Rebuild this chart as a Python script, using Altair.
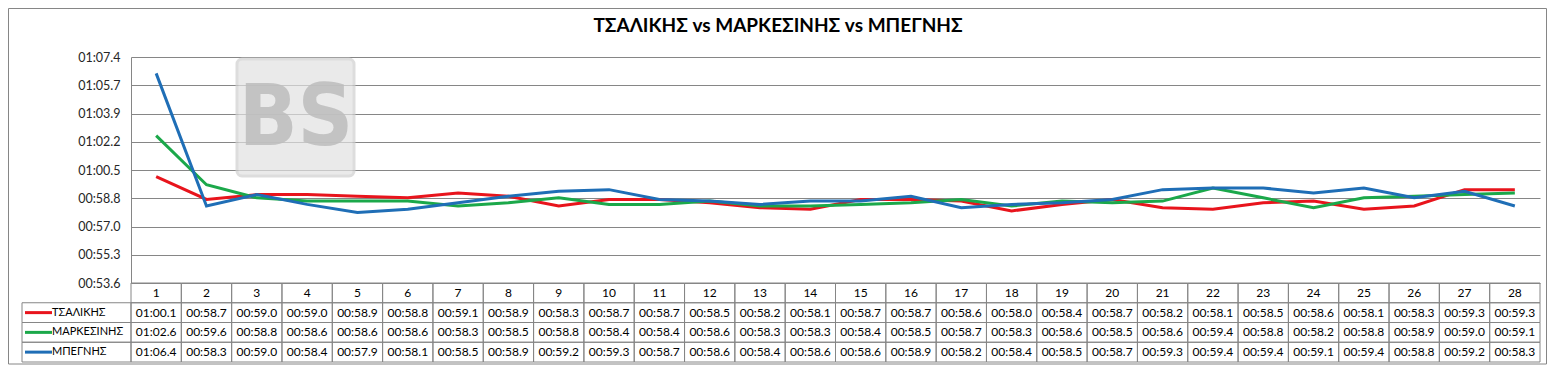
import altair as alt
import pandas as pd

laps = list(range(1, 29))
series_names = ["ΤΣΑΛΙΚΗΣ", "ΜΑΡΚΕΣΙΝΗΣ", "ΜΠΕΓΝΗΣ"]
series_colors = ["#E8141C", "#1BA84A", "#1F6EB6"]

tsalikis = ["01:00.1", "00:58.7", "00:59.0", "00:59.0", "00:58.9", "00:58.8", "00:59.1",
            "00:58.9", "00:58.3", "00:58.7", "00:58.7", "00:58.5", "00:58.2", "00:58.1",
            "00:58.7", "00:58.7", "00:58.6", "00:58.0", "00:58.4", "00:58.7", "00:58.2",
            "00:58.1", "00:58.5", "00:58.6", "00:58.1", "00:58.3", "00:59.3", "00:59.3"]
markesinis = ["01:02.6", "00:59.6", "00:58.8", "00:58.6", "00:58.6", "00:58.6", "00:58.3",
              "00:58.5", "00:58.8", "00:58.4", "00:58.4", "00:58.6", "00:58.3", "00:58.3",
              "00:58.4", "00:58.5", "00:58.7", "00:58.3", "00:58.6", "00:58.5", "00:58.6",
              "00:59.4", "00:58.8", "00:58.2", "00:58.8", "00:58.9", "00:59.0", "00:59.1"]
mpegnis = ["01:06.4", "00:58.3", "00:59.0", "00:58.4", "00:57.9", "00:58.1", "00:58.5",
           "00:58.9", "00:59.2", "00:59.3", "00:58.7", "00:58.6", "00:58.4", "00:58.6",
           "00:58.6", "00:58.9", "00:58.2", "00:58.4", "00:58.5", "00:58.7", "00:59.3",
           "00:59.4", "00:59.4", "00:59.1", "00:59.4", "00:58.8", "00:59.2", "00:58.3"]

y_min, y_max, y_step = 53.6, 67.4, 1.725
y_tick_labels = ["00:53.6", "00:55.3", "00:57.0", "00:58.8", "01:00.5",
                 "01:02.2", "01:03.9", "01:05.7", "01:07.4"]
title_text = "ΤΣΑΛΙΚΗΣ vs ΜΑΡΚΕΣΙΝΗΣ vs ΜΠΕΓΝΗΣ"
watermark_text = "BS"

FONT = "Lato"
GRID = "#868686"


def to_sec(s):
    m, rest = s.split(":")
    return int(m) * 60 + float(rest)


rows = []
for name, vals in zip(series_names, [tsalikis, markesinis, mpegnis]):
    for lap, v in zip(laps, vals):
        rows.append(dict(series=name, row=name, lap=lap, time=v, sec=to_sec(v)))
df = pd.DataFrame(rows)

header_df = pd.DataFrame({"lap": laps, "row": ["hdr"] * len(laps), "time": [str(l) for l in laps]})
cells_df = pd.concat([header_df, df[["lap", "row", "time"]]], ignore_index=True)
legend_df = pd.DataFrame({"row": series_names, "series": series_names})

tick_vals = [round(y_min + i * y_step, 4) for i in range(len(y_tick_labels))]
label_expr = "[" + ",".join("'%s'" % t for t in y_tick_labels) + "][round((datum.value-%s)/%s)]" % (y_min, y_step)

W, H, TH = 1409, 226, 79

color = alt.Color("series:N", scale=alt.Scale(domain=series_names, range=series_colors), legend=None)

# ---- top: line chart ----
x_top = alt.X("lap:O", scale=alt.Scale(type="point", domain=laps, padding=0.5), axis=None)
y_top = alt.Y("sec:Q",
              scale=alt.Scale(domain=[y_min, y_max], zero=False, nice=False),
              axis=alt.Axis(values=tick_vals, labelExpr=label_expr, title=None, grid=True,
                            gridColor=GRID, gridWidth=1, domainColor=GRID, ticks=False,
                            labelPadding=11, labelFontSize=12.5, labelFont=FONT,
                            labelColor="#262626"))

wm_df = pd.DataFrame({"t": [watermark_text]})
wm_rect = alt.Chart(wm_df).mark_rect(cornerRadius=5, fill="#e2e2e2", stroke="#cfcfcf",
                                     strokeWidth=3, opacity=0.7).encode(
    x=alt.value(106), x2=alt.value(223), y=alt.value(2), y2=alt.value(119))
wm_txt = alt.Chart(wm_df).mark_text(fontSize=86, fontWeight="bold",
                                    font="Liberation Sans Narrow, DejaVu Sans Condensed, Liberation Sans",
                                    color="#bdbdbd", opacity=0.85, baseline="middle").encode(
    x=alt.value(165), y=alt.value(62), text="t:N")

lines = alt.Chart(df).mark_line(strokeWidth=3).encode(x=x_top, y=y_top, color=color)

ttl = alt.Chart(pd.DataFrame({"t": [title_text]})).mark_text(
    fontSize=19, fontWeight="bold", font=FONT, color="#000000", baseline="middle").encode(
    x=alt.value(647), y=alt.value(-31), text="t:N")

border = alt.Chart(pd.DataFrame({"a": [0]})).mark_rect(
    fillOpacity=0, stroke=GRID, strokeWidth=1).encode(
    x=alt.value(-122.5), x2=alt.value(1415.5), y=alt.value(-48.5), y2=alt.value(307))

top = alt.layer(border, wm_rect, wm_txt, lines, ttl).properties(width=W, height=H)

# ---- bottom: data table ----
x_tab = alt.X("lap:O", scale=alt.Scale(type="band", domain=laps, paddingInner=0, paddingOuter=0), axis=None)
y_tab = alt.Y("row:N", scale=alt.Scale(type="band", domain=["hdr"] + series_names,
                                       paddingInner=0, paddingOuter=0), axis=None)

cells = alt.Chart(cells_df).mark_rect(fillOpacity=0, stroke=GRID, strokeWidth=1).encode(x=x_tab, y=y_tab)
cell_txt = alt.Chart(cells_df).mark_text(fontSize=12, font=FONT, color="#000000", baseline="middle").encode(
    x=x_tab, y=y_tab, text="time:N")

leg_cells = alt.Chart(legend_df).mark_rect(fillOpacity=0, stroke=GRID, strokeWidth=1).encode(
    x=alt.value(-109), x2=alt.value(0), y=y_tab)
leg_sw = alt.Chart(legend_df).mark_rule(strokeWidth=3).encode(
    x=alt.value(-106), x2=alt.value(-79), y=y_tab, color=color)
leg_txt = alt.Chart(legend_df).mark_text(fontSize=11, font=FONT, align="left", baseline="middle",
                                         color="#000000").encode(
    x=alt.value(-79), y=y_tab, text="row:N")

bottom = alt.layer(cells, cell_txt, leg_cells, leg_sw, leg_txt).properties(width=W, height=TH)

chart = alt.vconcat(top, bottom, spacing=0, bounds="flush").properties(padding=0).configure_view(stroke=None)

chart.save("out.html", embed_options={"renderer": "svg", "actions": False})
